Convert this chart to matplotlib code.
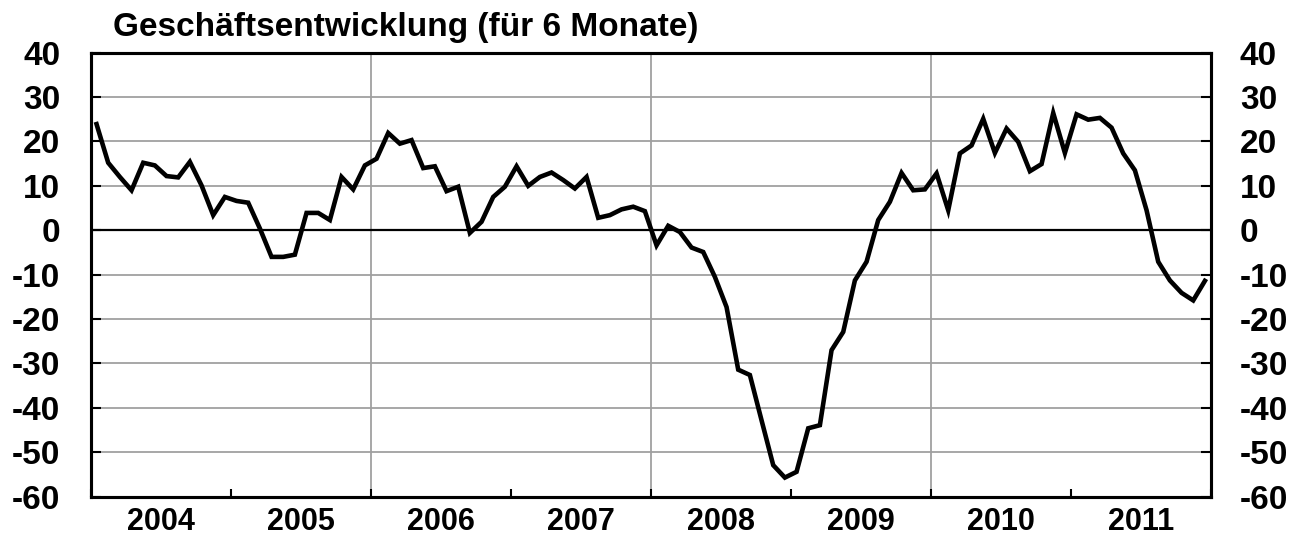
import numpy as np
import matplotlib
matplotlib.use("Agg")
import matplotlib.pyplot as plt

plt.rcParams['font.family'] = ['Liberation Sans', 'DejaVu Sans']
plt.rcParams['font.weight'] = 'bold'

# Geschäftsentwicklung, monatlich Jan 2004 - Dez 2011
years = [2004, 2005, 2006, 2007, 2008, 2009, 2010, 2011]
values = [
    23.9, 15.2, 12.0, 9.0, 15.2, 14.6, 12.2, 11.9, 15.4, 10.1, 3.4, 7.5,        # 2004
    6.6, 6.2, 0.4, -6.0, -6.0, -5.5, 3.9, 3.9, 2.3, 12.0, 9.2, 14.6,            # 2005
    16.1, 21.9, 19.5, 20.3, 14.0, 14.4, 8.8, 9.8, -0.6, 1.9, 7.5, 9.8,          # 2006
    14.4, 10.0, 12.0, 13.0, 11.3, 9.4, 12.0, 2.8, 3.4, 4.7, 5.3, 4.3,           # 2007
    -3.4, 1.0, -0.4, -3.9, -4.9, -10.5, -17.3, -31.4, -32.6, -42.8, -52.9, -55.7,  # 2008
    -54.4, -44.6, -43.9, -27.0, -22.9, -11.3, -7.1, 2.3, 6.4, 12.9, 9.0, 9.2,   # 2009
    12.8, 4.5, 17.3, 19.1, 25.1, 17.4, 22.9, 19.9, 13.3, 14.9, 26.4, 17.4,      # 2010
    26.1, 24.9, 25.3, 23.1, 17.3, 13.5, 4.5, -7.1, -11.3, -14.1, -15.8, -11.4,  # 2011
]
y_ticks = [40, 30, 20, 10, 0, -10, -20, -30, -40, -50, -60]
title = "Geschäftsentwicklung (für 6 Monate)"

months = np.arange(len(values))
x = years[0] + (months + 0.5) / 12

fig = plt.figure(figsize=(12.92, 5.38), dpi=100)
ax = fig.add_axes([0.0702, 0.0768, 0.8669, 0.8254])

ax.set_xlim(years[0], years[-1] + 1)
ax.set_ylim(-60, 40)

# Gitter
for yt in y_ticks:
    if yt == 0:
        ax.axhline(0, color='black', lw=1.6, zorder=2)
    elif -60 < yt < 40:
        ax.axhline(yt, color='#a0a0a0', lw=1.3, zorder=1)
for xv in [2006, 2008, 2010]:
    ax.axvline(xv, color='#a0a0a0', lw=1.3, zorder=1)

ax.plot(x, values, color='black', lw=3.3, solid_joinstyle='miter', zorder=3)

# Achsen
ax.set_yticks(y_ticks)
ax.set_yticklabels([str(v) for v in y_ticks])
ax.tick_params(axis='y', direction='in', length=7, width=1.5, labelsize=24, pad=22)
ax.set_xticks(range(years[0], years[-1] + 2))
ax.set_xticklabels([])
ax.tick_params(axis='x', which='major', direction='in', length=6, width=1.5)
ax.set_xticks([yr + 0.5 for yr in years], minor=True)
ax.set_xticklabels([str(yr) for yr in years], minor=True)
ax.tick_params(axis='x', which='minor', length=0, labelsize=22, pad=7.5)

ax2 = ax.twinx()
ax2.set_ylim(-60, 40)
ax2.set_yticks(y_ticks)
ax2.set_yticklabels([str(v) for v in y_ticks])
ax2.tick_params(axis='y', direction='in', length=7, width=1.5, labelsize=24, pad=21)

for a in (ax, ax2):
    for s in a.spines.values():
        s.set_linewidth(2.2)
        s.set_color('black')

fig.text(113 / 1292, 1 - 36 / 538, title, fontsize=24, fontweight='bold', va='baseline', ha='left')

fig.savefig('out.png', dpi=100)
